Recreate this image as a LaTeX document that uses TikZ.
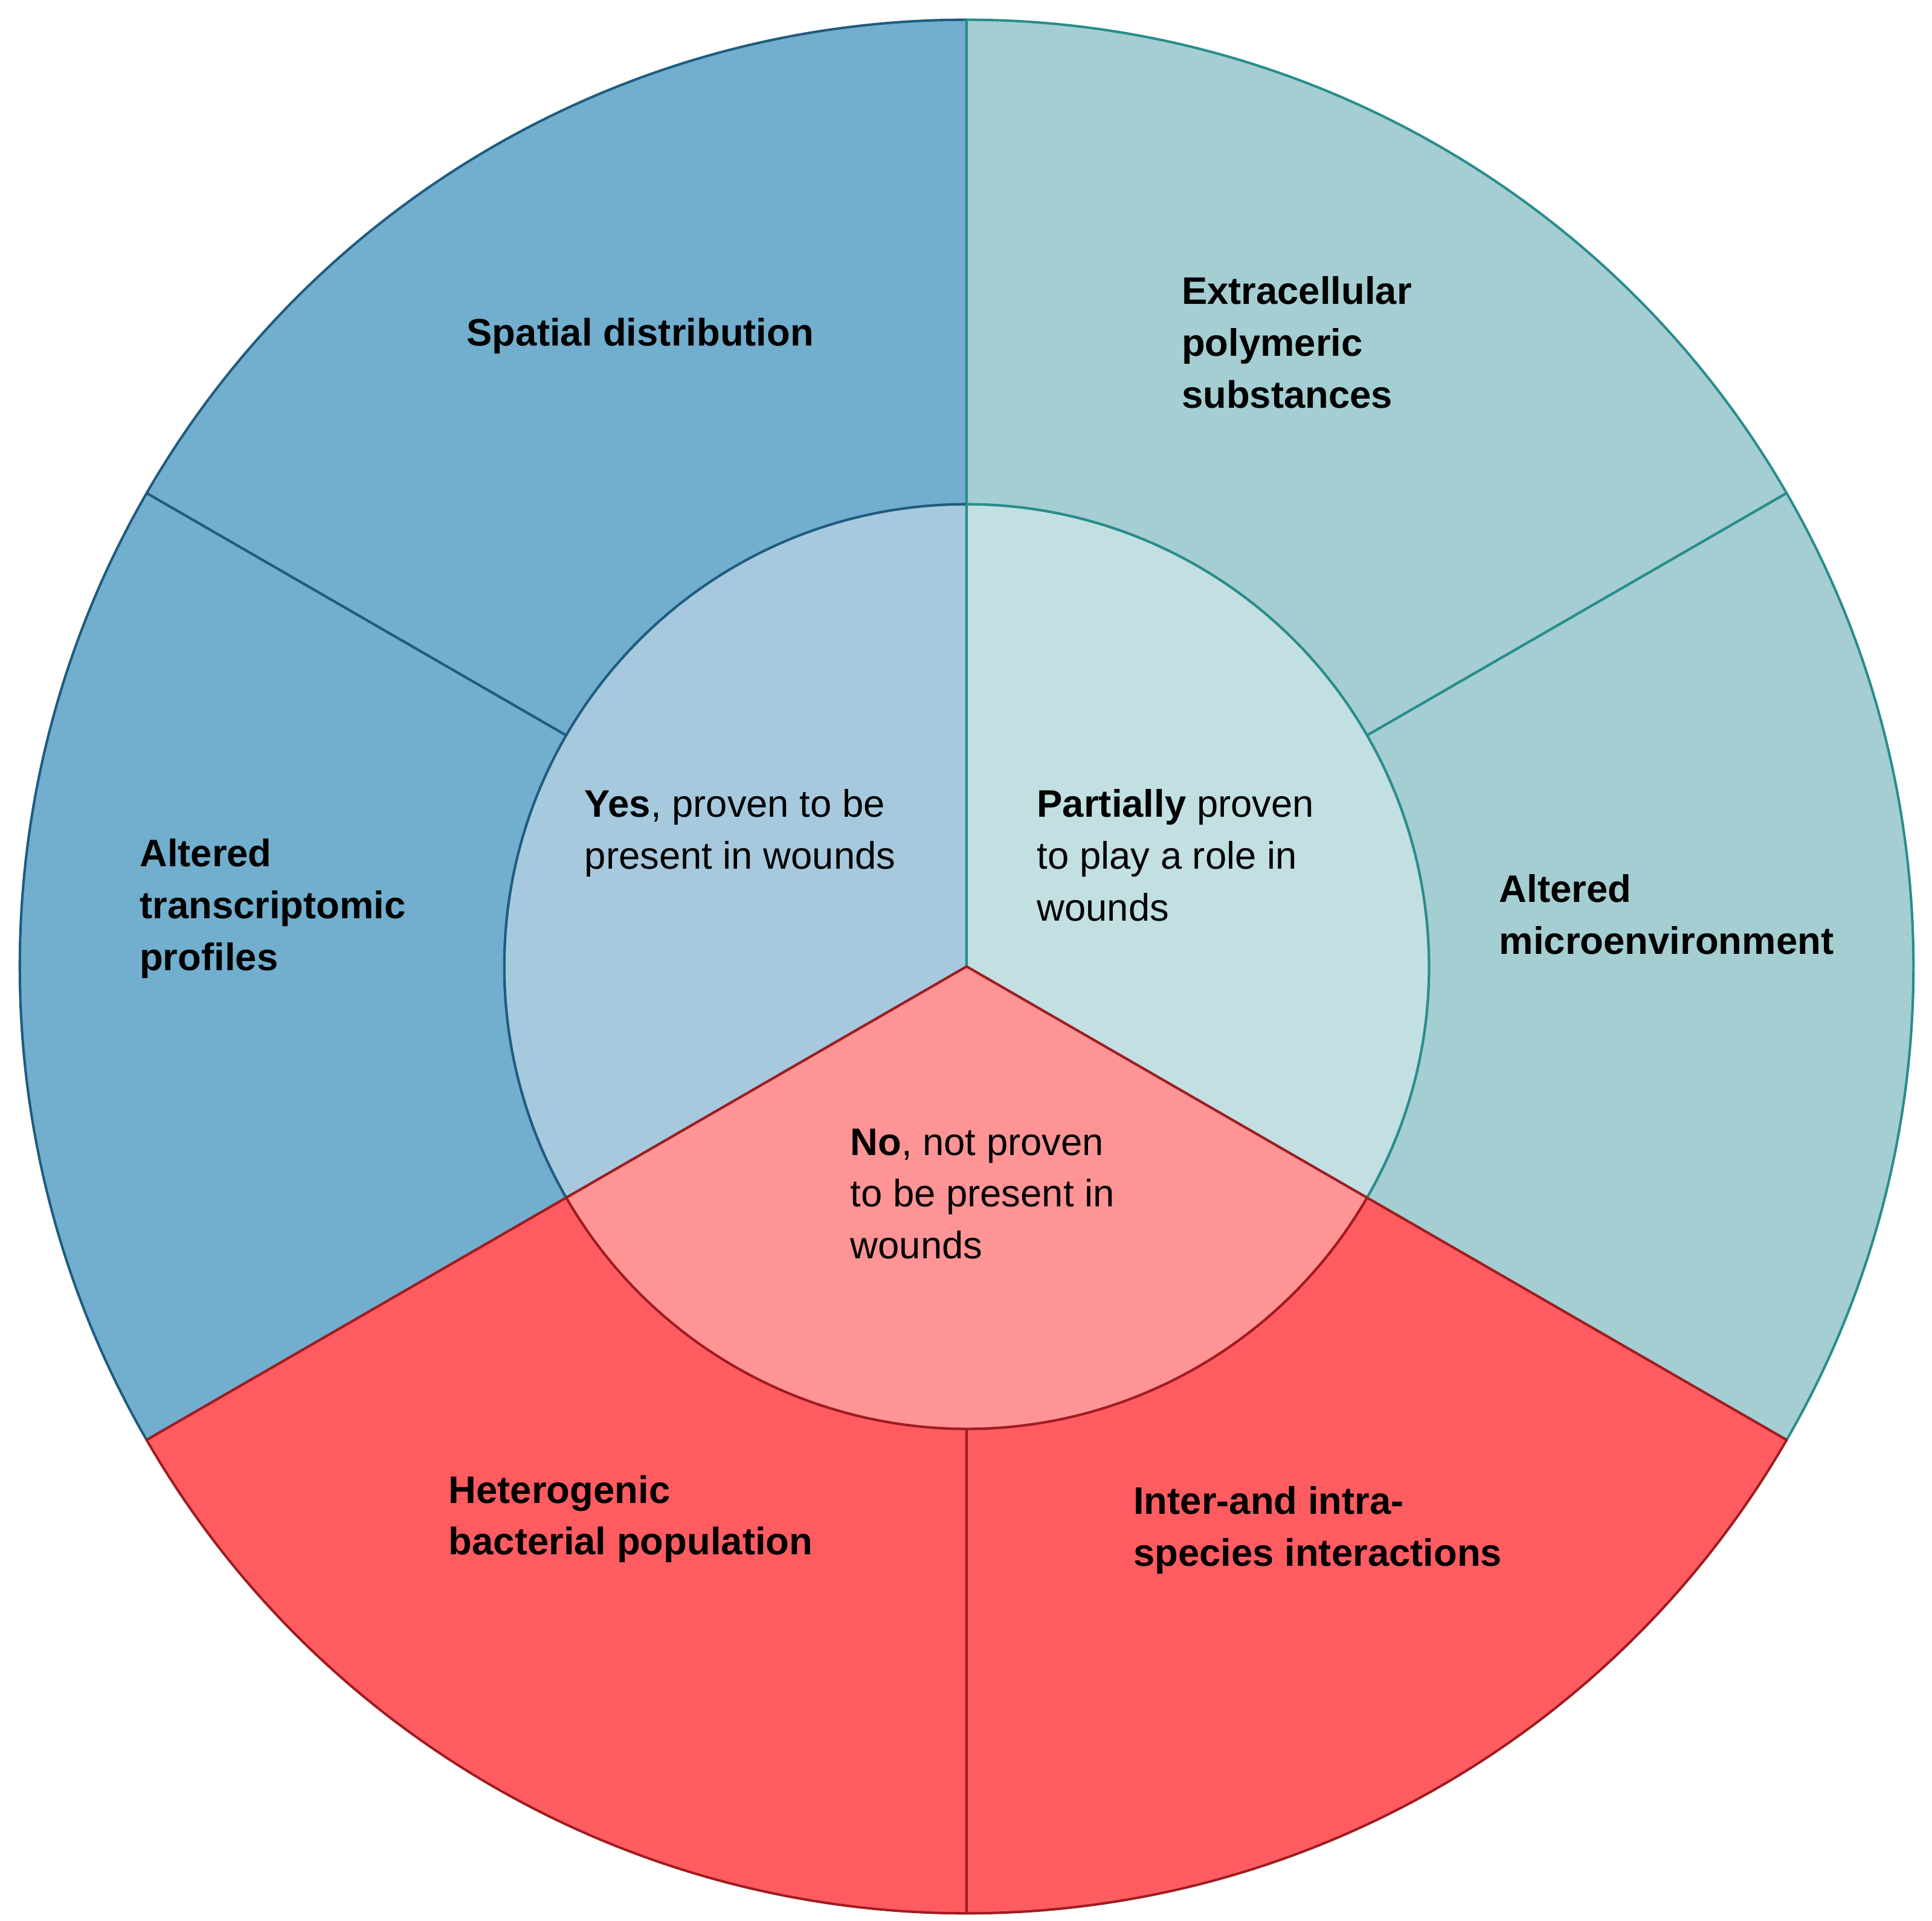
\documentclass[tikz,border=0pt]{standalone}
\usepackage{fontspec}
\setmainfont{Liberation Sans}
\begin{document}
\definecolor{bO}{HTML}{72AECD}\definecolor{bI}{HTML}{A6C9DE}\definecolor{bS}{HTML}{1F5C7F}
\definecolor{tO}{HTML}{A4CED1}\definecolor{tI}{HTML}{C2DFE2}\definecolor{tS}{HTML}{2A8C8C}
\definecolor{rO}{HTML}{FF5C61}\definecolor{rI}{HTML}{FF9496}\definecolor{rS}{HTML}{A01C20}
\begin{tikzpicture}[x=1pt,y=1pt,line width=2pt,
  lab/.style={anchor=west,align=left,font=\fontsize{31}{42}\selectfont\bfseries,inner sep=0},
  ilab/.style={anchor=west,align=left,font=\fontsize{31}{42}\selectfont,inner sep=0}]
\useasboundingbox (0,0) rectangle (1563,1554);
\coordinate (c) at (782,772);
\newcommand\ring[4]{\filldraw[fill=#3,draw=#4,line join=round] ([shift={(c)}]#1:374) arc[start angle=#1,end angle=#2,radius=374] -- ([shift={(c)}]#2:766) arc[start angle=#2,end angle=#1,radius=766] -- cycle;}
\newcommand\wedgeI[4]{\filldraw[fill=#3,draw=#4,line join=round] (c) -- ([shift={(c)}]#1:374) arc[start angle=#1,end angle=#2,radius=374] -- cycle;}
\ring{90}{150}{bO}{bS}
\ring{150}{210}{bO}{bS}
\ring{30}{90}{tO}{tS}
\ring{-30}{30}{tO}{tS}
\ring{210}{270}{rO}{rS}
\ring{270}{330}{rO}{rS}
\wedgeI{90}{210}{bI}{bS}
\wedgeI{-30}{90}{tI}{tS}
\wedgeI{210}{330}{rI}{rS}
\node[lab,anchor=center] (sd) at (518,1282) {Spatial distribution};
\node[lab] (eps) at (955,1277) {Extracellular\\polymeric\\substances};
\node[lab] (am) at (1212,814) {Altered\\microenvironment};
\node[lab] (atp) at (112,819) {Altered\\transcriptomic\\profiles};
\node[lab] (hbp) at (362,325) {Heterogenic\\bacterial population};
\node[lab] (iis) at (916,316) {Inter-and intra-\\species interactions};
\node[ilab] (yes) at (472,880) {\textbf{Yes}, proven to be\\present in wounds};
\node[ilab] (part) at (838,862) {\textbf{Partially} proven\\to play a role in\\wounds};
\node[ilab] (no) at (687,588) {\textbf{No}, not proven\\to be present in\\wounds};
\end{tikzpicture}
\end{document}
